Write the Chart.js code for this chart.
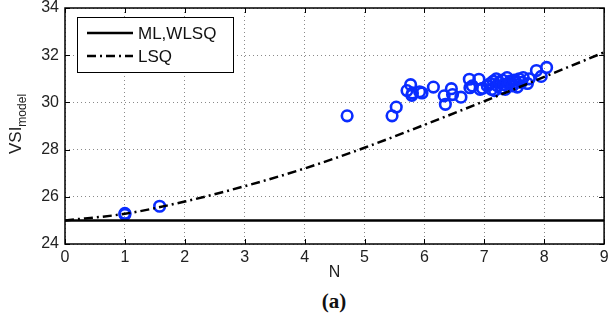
<!DOCTYPE html>
<html>
<head>
<meta charset="utf-8">
<script src="https://cdn.jsdelivr.net/npm/chart.js@4/dist/chart.umd.min.js"></script>
<style>
  body { margin: 0; background: #fff; }
  #wrap { width: 612px; height: 328px; position: relative; }
  #cap { position: absolute; left: 0; width: 668px; top: 289px; text-align: center;
         font-family: "Liberation Serif", "DejaVu Serif", serif; font-weight: bold; font-size: 21px; color: #111; }
</style>
</head>
<body>
<div id="wrap">
  <canvas id="c" width="612" height="285"></canvas>
  <div id="cap">(a)</div>
</div>
<script>
// ML,WLSQ model (flat)
const mlX = [0, 9];
const mlY = [25, 25];

// LSQ model curve
const lsqX = [0, 1, 2, 3, 4, 5, 6, 7, 8, 9];
const lsqY = [25, 25.28, 25.8, 26.45, 27.2, 28.08, 29.05, 30.05, 31.08, 32.12];

// measured points
const obsX = [1.0, 1.0, 1.58, 4.71, 5.46, 5.53, 5.71, 5.77, 5.79, 5.8, 5.92, 5.96,
  6.15, 6.33, 6.35, 6.45, 6.47, 6.61, 6.75, 6.76, 6.8, 6.91, 6.93, 6.97,
  7.05, 7.1, 7.12, 7.15, 7.17, 7.2, 7.22, 7.25, 7.28, 7.3, 7.33, 7.35, 7.38,
  7.4, 7.43, 7.47, 7.5, 7.53, 7.55, 7.58, 7.62, 7.65, 7.72, 7.75, 7.87, 7.95, 8.04];
const obsY = [25.3, 25.25, 25.6, 29.43, 29.43, 29.8, 30.5, 30.75, 30.3, 30.4, 30.45, 30.4,
  30.65, 30.28, 29.92, 30.58, 30.33, 30.22, 30.98, 30.62, 30.7, 30.98, 30.55, 30.6,
  30.7, 30.8, 30.55, 30.9, 30.5, 31.0, 30.7, 30.85, 30.6, 30.95, 30.75, 30.55, 31.05,
  30.8, 30.9, 30.7, 30.95, 30.85, 30.65, 31.0, 30.85, 31.05, 30.8, 31.0, 31.35, 31.1, 31.48];

const xTicks = [0, 1, 2, 3, 4, 5, 6, 7, 8, 9];
const yTicks = [24, 26, 28, 30, 32, 34];

const pts = (xs, ys) => xs.map((x, i) => ({ x: x, y: ys[i] }));
const FONT = '"Liberation Sans", Arial, sans-serif';

const decor = {
  id: 'decor',
  afterDraw(chart) {
    const ctx = chart.ctx;
    const a = chart.chartArea;
    const xs = chart.scales.x, ys = chart.scales.y;
    ctx.save();
    // inward ticks
    ctx.strokeStyle = '#000';
    ctx.lineWidth = 1;
    ctx.beginPath();
    xTicks.forEach(v => {
      const p = Math.round(xs.getPixelForValue(v)) + 0.5;
      ctx.moveTo(p, a.bottom); ctx.lineTo(p, a.bottom - 5);
      ctx.moveTo(p, a.top); ctx.lineTo(p, a.top + 5);
    });
    yTicks.forEach(v => {
      const p = Math.round(ys.getPixelForValue(v)) + 0.5;
      ctx.moveTo(a.left, p); ctx.lineTo(a.left + 5, p);
      ctx.moveTo(a.right, p); ctx.lineTo(a.right - 5, p);
    });
    ctx.stroke();
    // box
    ctx.lineWidth = 1.5;
    ctx.strokeRect(a.left, a.top, a.right - a.left, a.bottom - a.top);

    // axis titles
    ctx.fillStyle = '#222';
    ctx.font = '16px ' + FONT;
    ctx.textAlign = 'center';
    ctx.textBaseline = 'middle';
    ctx.fillText('N', (a.left + a.right) / 2, 273);
    ctx.translate(16, 124);
    ctx.rotate(-Math.PI / 2);
    ctx.textAlign = 'left';
    ctx.font = '17px ' + FONT;
    const w1 = ctx.measureText('VSI').width;
    ctx.font = '12px ' + FONT;
    const w2 = ctx.measureText('model').width;
    const start = -(w1 + w2) / 2;
    ctx.font = '17px ' + FONT;
    ctx.fillText('VSI', start, 0);
    ctx.font = '12px ' + FONT;
    ctx.fillText('model', start + w1, 7);
    ctx.restore();

    // legend box
    ctx.save();
    const bx = 77, by = 17, bw = 156, bh = 55;
    ctx.fillStyle = '#fff';
    ctx.fillRect(bx, by, bw, bh);
    ctx.strokeStyle = '#000';
    ctx.lineWidth = 1;
    ctx.strokeRect(bx + 0.5, by + 0.5, bw, bh);
    ctx.lineWidth = 2.5;
    ctx.beginPath();
    ctx.moveTo(87, 33); ctx.lineTo(133, 33);
    ctx.stroke();
    ctx.setLineDash([9, 4, 2, 4]);
    ctx.beginPath();
    ctx.moveTo(87, 56); ctx.lineTo(133, 56);
    ctx.stroke();
    ctx.setLineDash([]);
    ctx.fillStyle = '#111';
    ctx.font = '17px ' + FONT;
    ctx.textBaseline = 'middle';
    ctx.textAlign = 'left';
    ctx.fillText('ML,WLSQ', 138, 34);
    ctx.fillText('LSQ', 138, 57);
    ctx.restore();
  }
};

new Chart(document.getElementById('c'), {
  type: 'scatter',
  data: {
    datasets: [
      {
        label: 'ML,WLSQ',
        data: pts(mlX, mlY),
        showLine: true,
        borderColor: '#000',
        borderWidth: 2.5,
        pointRadius: 0
      },
      {
        label: 'LSQ',
        data: pts(lsqX, lsqY),
        showLine: true,
        borderColor: '#000',
        borderWidth: 2.5,
        borderDash: [9, 4, 2, 4],
        cubicInterpolationMode: 'monotone',
        pointRadius: 0
      },
      {
        label: 'data',
        data: pts(obsX, obsY),
        borderColor: '#0a2cff',
        backgroundColor: 'rgba(0,0,0,0)',
        borderWidth: 2.6,
        pointRadius: 5.3,
        pointHoverRadius: 5.3
      }
    ]
  },
  options: {
    responsive: false,
    animation: false,
    layout: { padding: { left: 0, right: 4, top: 8, bottom: 0 } },
    plugins: { legend: { display: false }, tooltip: { enabled: false } },
    scales: {
      x: {
        type: 'linear', min: 0, max: 9,
        afterBuildTicks: s => { s.ticks = xTicks.map(v => ({ value: v })); },
        afterFit: s => { s.height = 41; s.paddingLeft = 0; s.paddingRight = 0; },
        ticks: { color: '#222', font: { size: 16, family: FONT }, padding: 4, maxRotation: 0 },
        grid: { color: '#8a8a8a', drawTicks: false },
        border: { display: false, dash: [1, 3] }
      },
      y: {
        type: 'linear', min: 24, max: 34,
        afterBuildTicks: s => { s.ticks = yTicks.map(v => ({ value: v })); },
        afterFit: s => { s.width = 65; s.paddingTop = 0; s.paddingBottom = 0; },
        ticks: { color: '#222', font: { size: 16, family: FONT }, padding: 6 },
        grid: { color: '#8a8a8a', drawTicks: false },
        border: { display: false, dash: [1, 3] }
      }
    }
  },
  plugins: [decor]
});
</script>
</body>
</html>
